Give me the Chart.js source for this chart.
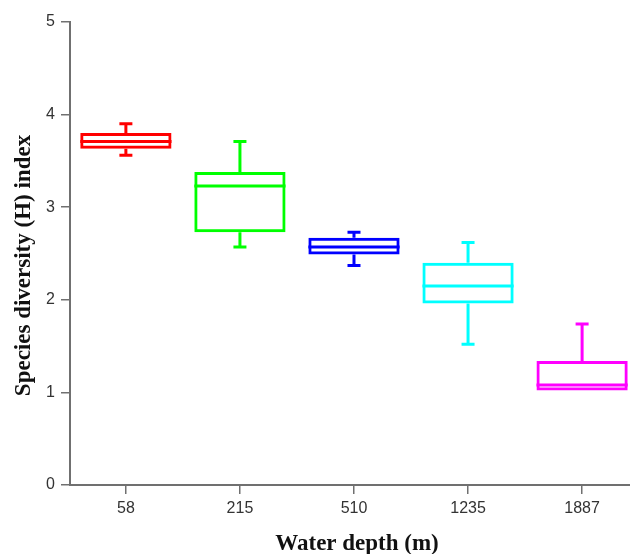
<!DOCTYPE html>
<html>
<head>
<meta charset="utf-8">
<script src="https://cdn.jsdelivr.net/npm/chart.js@4/dist/chart.umd.min.js"></script>
<style>
  body { margin: 0; background: #fff; }
</style>
</head>
<body>
<canvas id="myChart" width="630" height="554"></canvas>
<script>
const labels = ['58', '215', '510', '1235', '1887'];

// box plot statistics per water depth
const whiskerMax = [3.90, 3.71, 2.73, 2.62, 1.74];
const q3 = [3.80, 3.38, 2.67, 2.40, 1.34];
const median = [3.71, 3.23, 2.57, 2.15, 1.08];
const q1 = [3.63, 2.73, 2.49, 1.96, 1.02];
const whiskerMin = [3.56, 2.57, 2.37, 1.52, 1.02];

const colors = ['#ff0000', '#00ff00', '#0000ff', '#00ffff', '#ff00ff'];

const xTitle = 'Water depth (m)';
const yTitle = 'Species diversity (H) index';

const axisColor = '#707070';
const tickFont = { family: 'Liberation Sans', size: 16 };

// medians and whiskers drawn on top of the boxes
const boxPlotLines = {
  id: 'boxPlotLines',
  afterDatasetsDraw(chart) {
    const ctx = chart.ctx;
    const y = chart.scales.y;
    const meta = chart.getDatasetMeta(0);
    meta.data.forEach((bar, i) => {
      const half = bar.width / 2;
      const cap = 6.5;
      ctx.save();
      ctx.strokeStyle = colors[i];
      ctx.lineWidth = 3;
      ctx.beginPath();
      // median
      const ym = y.getPixelForValue(median[i]);
      ctx.moveTo(bar.x - half, ym);
      ctx.lineTo(bar.x + half, ym);
      // upper whisker
      if (whiskerMax[i] > q3[i]) {
        const yTop = y.getPixelForValue(q3[i]);
        const yMax = y.getPixelForValue(whiskerMax[i]);
        ctx.moveTo(bar.x, yTop);
        ctx.lineTo(bar.x, yMax);
        ctx.moveTo(bar.x - cap, yMax);
        ctx.lineTo(bar.x + cap, yMax);
      }
      // lower whisker
      if (whiskerMin[i] < q1[i]) {
        const yBot = y.getPixelForValue(q1[i]);
        const yMin = y.getPixelForValue(whiskerMin[i]);
        ctx.moveTo(bar.x, yBot);
        ctx.lineTo(bar.x, yMin);
        ctx.moveTo(bar.x - cap, yMin);
        ctx.lineTo(bar.x + cap, yMin);
      }
      ctx.stroke();
      ctx.restore();
    });
  }
};

// axis titles, a little off-centre like the original figure
const axisTitles = {
  id: 'axisTitles',
  afterDraw(chart) {
    const { ctx, chartArea } = chart;
    ctx.save();
    ctx.font = 'bold 23px "Liberation Serif"';
    ctx.fillStyle = '#111';
    ctx.textAlign = 'center';
    ctx.textBaseline = 'middle';
    ctx.fillText(xTitle, (chartArea.left + chartArea.right) / 2 + 7, chart.height - 10);
    ctx.translate(24, (chartArea.top + chartArea.bottom) / 2 + 12);
    ctx.rotate(-Math.PI / 2);
    ctx.fillText(yTitle, 0, 0);
    ctx.restore();
  }
};

const data = {
  datasets: [{
    label: 'Species diversity',
    data: labels.map((_, i) => ({ x: i, y: [q1[i], q3[i]] })),
    backgroundColor: 'rgba(0,0,0,0)',
    borderColor: colors,
    borderWidth: 3,
    borderSkipped: false,
    categoryPercentage: 0.8,
    barPercentage: 1
  }]
};

const config = {
  type: 'bar',
  data: data,
  options: {
    responsive: false,
    animation: false,
    layout: { padding: { top: 22, right: 0, bottom: 0, left: 0 } },
    plugins: {
      legend: { display: false },
      tooltip: { enabled: false }
    },
    scales: {
      x: {
        type: 'linear',
        min: -0.49,
        max: 4.42,
        offset: false,
        afterBuildTicks: (s) => { s.ticks = labels.map((_, i) => ({ value: i })); },
        afterFit: (s) => { s.height = 69; },
        ticks: {
          callback: (v) => labels[v],
          color: '#333',
          font: tickFont,
          padding: 5,
          autoSkip: false,
          maxRotation: 0
        },
        grid: { offset: false, drawOnChartArea: false, color: axisColor, lineWidth: 1.5, tickLength: 9 },
        border: { color: axisColor, width: 2 }
      },
      y: {
        min: 0,
        max: 5,
        afterFit: (s) => { s.width = 70; },
        ticks: { stepSize: 1, color: '#333', font: tickFont, padding: 6 },
        grid: { drawOnChartArea: false, color: axisColor, lineWidth: 1.5, tickLength: 9 },
        border: { color: axisColor, width: 2 }
      }
    }
  },
  plugins: [boxPlotLines, axisTitles]
};

const myChart = new Chart(
  document.getElementById('myChart'),
  config
);
</script>
</body>
</html>
